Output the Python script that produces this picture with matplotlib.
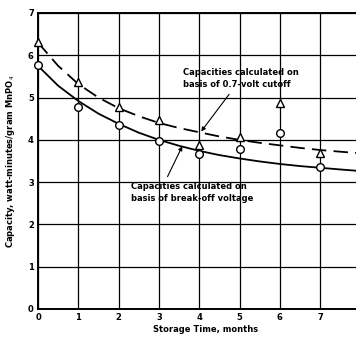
import matplotlib
matplotlib.use("Agg")
import matplotlib.pyplot as plt

months = [0, 1, 2, 3, 4, 5, 6, 7]
cap_cutoff = [6.32, 5.38, 4.78, 4.47, 3.88, 4.07, 4.87, 3.69]
cap_breakoff = [5.77, 4.78, 4.35, 3.97, 3.66, 3.78, 4.16, 3.36]

curve_x = [0, 0.5, 1, 1.5, 2, 2.5, 3, 3.5, 4, 4.5, 5, 5.5, 6, 6.5, 7, 7.5, 7.9]
curve_cutoff = [6.3, 5.75, 5.32, 5.0, 4.75, 4.56, 4.4, 4.28, 4.18, 4.08, 4.0, 3.93, 3.87, 3.81, 3.76, 3.72, 3.69]
curve_breakoff = [5.75, 5.28, 4.92, 4.62, 4.38, 4.17, 4.0, 3.86, 3.74, 3.64, 3.56, 3.49, 3.43, 3.38, 3.34, 3.3, 3.27]

xticks = [0, 1, 2, 3, 4, 5, 6, 7]
yticks = [0, 1, 2, 3, 4, 5, 6, 7]

fig = plt.figure(figsize=(3.56, 3.37), dpi=100)
ax = fig.add_axes([38/356, 28/337, 318/356, 296/337])
ax.set_xlim(0, 318/40.3)
ax.set_ylim(0, 7)
ax.set_xticks(xticks)
ax.set_yticks(yticks)
ax.grid(True, color="black", linewidth=0.9)
ax.set_axisbelow(True)
for s in ["left", "bottom", "top"]:
    ax.spines[s].set_linewidth(1.4)
ax.spines["right"].set_visible(False)
ax.tick_params(length=0, labelsize=6, pad=3)
for lab in ax.get_xticklabels() + ax.get_yticklabels():
    lab.set_fontweight("bold")

ax.plot(curve_x, curve_cutoff, color="black", lw=1.3, dashes=(8, 4), clip_on=False)
ax.plot(curve_x, curve_breakoff, color="black", lw=1.3, clip_on=False)
ax.plot(months, cap_cutoff, linestyle="none", marker="^", ms=5.5, mfc="white", mec="black", mew=1.0, clip_on=False, zorder=5)
ax.plot(months, cap_breakoff, linestyle="none", marker="o", ms=5.5, mfc="white", mec="black", mew=1.0, clip_on=False, zorder=5)

ax.annotate("Capacities calculated on\nbasis of 0.7-volt cutoff", xy=(4.05, 4.2), xytext=(3.6, 5.45),
            fontsize=6, fontweight="bold", ha="left", va="center", linespacing=1.5,
            arrowprops=dict(arrowstyle="-|>", color="black", lw=0.8, mutation_scale=6, shrinkA=2, shrinkB=0))
ax.annotate("Capacities calculated on\nbasis of break-off voltage", xy=(3.58, 3.85), xytext=(2.3, 2.75),
            fontsize=6, fontweight="bold", ha="left", va="center", linespacing=1.5,
            arrowprops=dict(arrowstyle="-|>", color="black", lw=0.8, mutation_scale=6, shrinkA=2, shrinkB=0,
                            relpos=(0.28, 1.0)))

fig.text(206/356, 1 - 330/337, "Storage Time, months", fontsize=6, fontweight="bold",
         ha="center", va="center")
ax.set_ylabel("Capacity, watt-minutes/gram MnPO$_4$", fontsize=6, fontweight="bold", labelpad=8)

fig.savefig("out.png", dpi=100)
